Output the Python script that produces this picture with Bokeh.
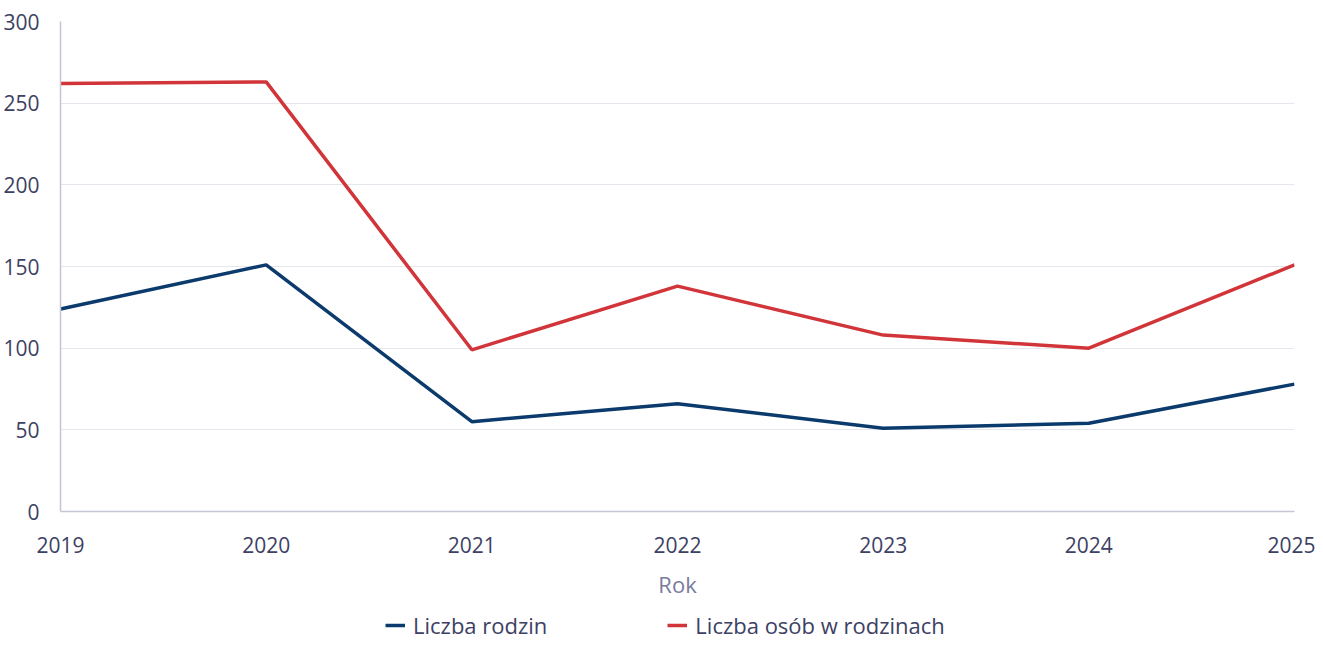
from bokeh.plotting import figure
from bokeh.layouts import column
from bokeh.models import Legend, LegendItem, Range1d, FixedTicker
from bokeh.embed import file_html
from bokeh.resources import INLINE

years = [2019, 2020, 2021, 2022, 2023, 2024, 2025]
families = [124, 151, 55, 66, 51, 54, 78]
persons = [262, 263, 99, 138, 108, 100, 151]
y_ticks = [0, 50, 100, 150, 200, 250, 300]
series_names = ["Liczba rodzin", "Liczba osób w rodzinach"]
series_colors = ["#0b3a6c", "#d23539"]

TEXT = "#3d4163"
FONT = "Open Sans"

p = figure(width=1315, height=606, output_backend="svg", toolbar_location=None,
           x_range=Range1d(2019, 2025), y_range=Range1d(0, 300),
           min_border_left=60, min_border_top=21, min_border_right=21, min_border_bottom=95)
p.outline_line_color = None

p.line(years, families, line_color=series_colors[0], line_width=3.5)
p.line(years, persons, line_color=series_colors[1], line_width=3.5)

p.xgrid.grid_line_color = None
p.ygrid.grid_line_color = "#e6e6ee"
p.ygrid.grid_line_width = 1.2
p.ygrid.ticker = FixedTicker(ticks=y_ticks)

p.xaxis.ticker = FixedTicker(ticks=years)
p.yaxis.ticker = FixedTicker(ticks=y_ticks)
for ax in (p.xaxis[0], p.yaxis[0]):
    ax.axis_line_color = "#c4c6d8"
    ax.axis_line_width = 1.5
    ax.major_tick_line_color = None
    ax.minor_tick_line_color = None
    ax.major_label_text_font = FONT
    ax.major_label_text_font_size = "21px"
    ax.major_label_text_color = TEXT
p.yaxis.major_label_standoff = 15
p.xaxis.major_label_standoff = 19
p.xaxis.axis_label = "Rok"
p.xaxis.axis_label_text_font = FONT
p.xaxis.axis_label_text_font_size = "22px"
p.xaxis.axis_label_text_font_style = "normal"
p.xaxis.axis_label_text_color = "#7a7b9c"
p.xaxis.axis_label_standoff = 13

# legend strip (proxy lines lie outside the strip's visible range)
lg = figure(width=1315, height=34, output_backend="svg", toolbar_location=None,
            x_range=Range1d(0, 1), y_range=Range1d(0, 1),
            min_border_left=0, min_border_right=0, min_border_top=0, min_border_bottom=0)
lg.axis.visible = False
lg.grid.visible = False
lg.outline_line_color = None
items = []
for name, col in zip(series_names, series_colors):
    r = lg.line([0, 1], [-10, -10], line_color=col, line_width=3.5)
    items.append(LegendItem(label=name, renderers=[r]))
legend = Legend(items=items, orientation="horizontal", location=(325, 0),
                label_text_font=FONT, label_text_font_size="22px", label_text_color=TEXT,
                glyph_width=20, glyph_height=20, label_standoff=8, spacing=120,
                padding=0, margin=0, border_line_color=None, background_fill_alpha=0)
lg.add_layout(legend, "center")

layout = column(p, lg, spacing=0)
open("out.html", "w").write(file_html(layout, INLINE))
